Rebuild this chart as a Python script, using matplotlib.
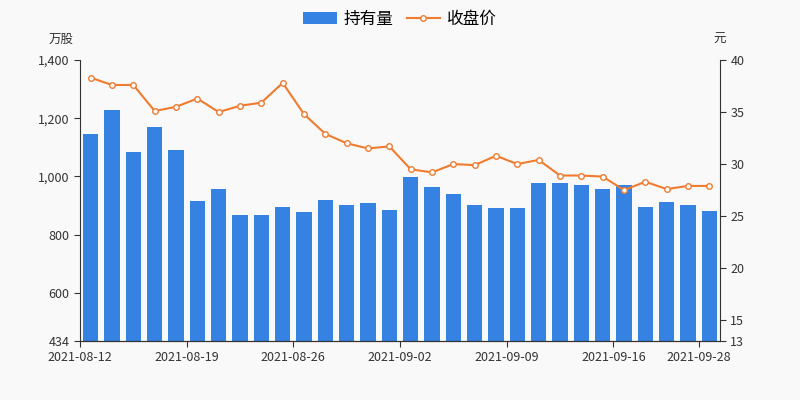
import matplotlib
matplotlib.use('Agg')
import matplotlib.pyplot as plt
from matplotlib.ticker import FuncFormatter
plt.rcParams['font.family'] = ['Noto Sans CJK SC', 'DejaVu Sans']

holdings = [1145,1228,1085,1168,1090,915,958,868,868,895,878,920,900,910,885,997,965,938,900,890,890,978,978,970,957,970,895,912,900,880]
price = [38.3,37.6,37.6,35.1,35.5,36.3,35.0,35.6,35.9,37.8,34.8,32.9,32.0,31.5,31.7,29.5,29.2,30.0,29.9,30.8,30.0,30.4,28.9,28.9,28.8,27.5,28.3,27.6,27.9,27.9]
tick_pos = [0,5,10,15,20,25,29]
tick_labels = ['2021-08-12','2021-08-19','2021-08-26','2021-09-02','2021-09-09','2021-09-16','2021-09-28']
left_ticks = [434,600,800,1000,1200,1400]
right_ticks = [13,15,20,25,30,35,40]

bg = '#f9f9f9'
fig = plt.figure(figsize=(8,4), dpi=100, facecolor=bg)
ax = fig.add_axes([0.1, 0.1475, 0.8, 0.7025])
ax.set_facecolor(bg)
x = list(range(len(holdings)))
bars = ax.bar(x, holdings, width=0.72, color='#3582e2', label='持有量', zorder=2)
ax.set_xlim(-0.5, len(holdings)-0.5)
ax.set_ylim(434, 1400)
ax.set_yticks(left_ticks)
ax.yaxis.set_major_formatter(FuncFormatter(lambda v,p: f'{int(v):,}'))
ax.set_xticks([p-0.5 for p in tick_pos])
ax.set_xticklabels(tick_labels)
ax2 = ax.twinx()
ln, = ax2.plot(x, price, color='#f07b2f', marker='o', markersize=4, markerfacecolor='white', markeredgewidth=1, linewidth=1.5, label='收盘价')
ax2.set_ylim(13, 40)
ax2.set_yticks(right_ticks)
for a in (ax, ax2):
    for s in ('top',):
        a.spines[s].set_visible(False)
    a.tick_params(colors='#333333', labelsize=9, length=4)
    for s in a.spines.values():
        s.set_color('#333333')
ax.spines['right'].set_visible(False)
ax2.spines['left'].set_visible(False)
ax.text(-0.03, 1.06, '万股', transform=ax.transAxes, fontsize=9, color='#333333', ha='center')
ax2.text(1.0, 1.06, '元', transform=ax.transAxes, fontsize=9, color='#333333', ha='center')
fig.legend(handles=[bars, ln], loc='upper center', ncol=2, frameon=False, fontsize=12,
           bbox_to_anchor=(0.5, 1.01), handlelength=2, columnspacing=0.8, handletextpad=0.4)
fig.savefig('out.png', facecolor=bg)
